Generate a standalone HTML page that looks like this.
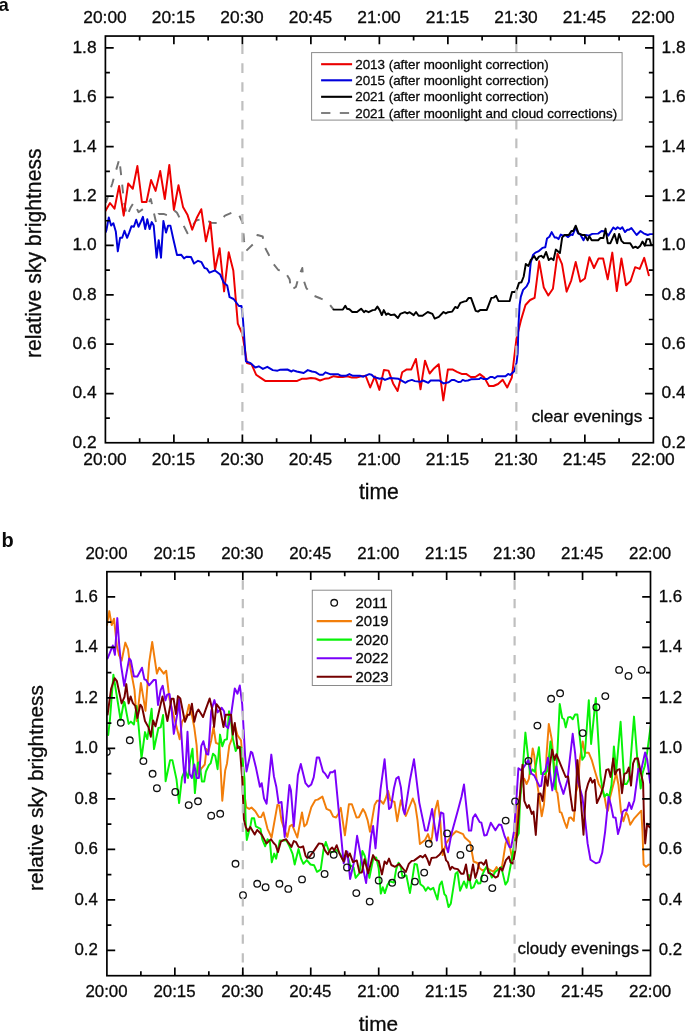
<!DOCTYPE html>
<html lang="en"><head><meta charset="utf-8"><title>Relative sky brightness</title>
<style>html,body{margin:0;padding:0;background:#fff}svg{display:block}text{font-family:"Liberation Sans", Arial, sans-serif;fill:#0a0a0a;stroke:#0a0a0a;stroke-width:0.3px}.tk{font-size:17.35px}.tkb{font-size:16.85px}.ax{font-size:21.2px}.pl{font-size:18.5px;font-weight:bold;stroke:none}.la{font-size:13.4px}.lb{font-size:14.9px}.fr{fill:none;stroke:#000;stroke-width:1.7}.t{stroke:#000;stroke-width:1.7;fill:none}.c{fill:none;stroke-width:1.95;stroke-linejoin:round;stroke-linecap:round}.vd{stroke:#bfbfbf;stroke-width:2.2;stroke-dasharray:9.6 9.22;fill:none}</style></head><body>
<svg width="685" height="1031" viewBox="0 0 685 1031">
<rect width="685" height="1031" fill="#fff"/>
<defs><clipPath id="cb"><rect x="106.9" y="571.7" width="543.6" height="404"/></clipPath><clipPath id="ca"><rect x="105.4" y="36.05" width="547.95" height="406.7"/></clipPath></defs>
<g id="panel-a">
<g clip-path="url(#ca)">
<polyline class="c" stroke="#737373" stroke-width="2" stroke-dasharray="8.8 9.6" stroke-dashoffset="2" style="stroke-linecap:butt" points="105.8,202.8 112.3,183.5 119.3,159.0 121.6,178.9 123.9,201.1 126.9,216.2 130.4,208.1 133.9,202.2 138.5,212.2 146.7,206.3 150.8,199.0 156.1,222.7 158.4,213.9 163.6,213.9 170.1,216.2 175.0,211.0 177.0,212.7 187.5,233.2 196.0,220.5 204.0,218.5 211.0,222.7 218.0,223.0 225.0,215.6 233.7,212.0 238.9,214.6 242.6,222.6 244.0,240.9 246.0,251.0 253.5,243.8 257.5,235.0 262.7,236.5 264.5,246.7 268.4,254.0 272.8,263.0 278.3,270.0 284.9,271.5 289.7,279.6 291.0,290.0 295.9,286.9 298.8,276.6 302.3,268.0 303.2,278.8 306.3,288.0 311.9,294.9 320.7,298.5 328.0,302.2 333.6,309.6"/>
<polyline class="c" stroke="#ee0000" points="105.4,211.0 110.0,203.0 114.5,208.7 119.1,185.9 123.7,215.7 128.2,183.5 132.8,188.8 137.4,166.0 141.9,202.0 146.5,202.0 151.1,180.0 155.6,190.9 160.2,170.9 164.8,199.0 169.3,164.9 173.9,209.8 178.5,185.3 183.0,206.9 187.6,215.1 192.2,229.7 196.7,218.0 201.3,209.2 205.9,241.3 210.4,222.1 215.0,269.8 219.6,248.2 224.1,291.4 228.7,252.3 233.3,270.4 237.8,323.7 242.4,334.0 247.0,363.1 251.5,364.2 256.1,374.7 260.7,377.9 265.2,380.9 269.8,380.9 274.4,380.9 278.9,380.9 283.5,380.9 288.1,380.9 292.6,380.9 297.2,380.9 301.8,378.8 306.3,378.8 310.9,378.0 315.4,378.5 320.0,380.5 324.6,378.8 329.1,378.2 333.7,376.2 338.3,377.0 342.8,377.0 347.4,376.2 352.0,377.6 356.5,377.6 361.1,376.4 365.7,375.8 370.2,387.5 374.8,376.4 379.4,389.9 383.9,370.0 388.5,370.6 393.1,383.4 397.6,391.0 402.2,372.3 406.8,369.4 411.3,369.4 415.9,358.9 420.5,389.3 425.0,360.7 429.6,373.5 434.2,368.2 438.7,364.2 443.3,400.4 447.9,369.4 452.4,369.4 457.0,371.8 461.6,373.9 466.1,373.9 470.7,377.0 475.3,377.0 479.8,374.1 484.4,377.6 489.0,386.0 493.5,386.0 498.1,384.0 502.7,379.7 507.2,387.5 511.8,377.6 516.4,339.0 520.9,320.4 525.5,305.0 530.1,300.0 534.6,297.8 539.2,261.3 543.8,287.6 548.3,295.5 552.9,288.8 557.5,253.7 562.0,264.2 566.6,291.7 571.2,280.6 575.7,261.9 580.3,281.8 584.9,278.5 589.4,257.2 594.0,268.0 598.6,258.4 603.1,258.4 607.7,279.4 612.3,252.6 616.8,291.1 621.4,258.4 626.0,285.3 630.5,281.2 635.1,267.2 639.7,268.9 644.2,257.8 648.8,275.3"/>
<polyline class="c" stroke="#0000dc" points="105.8,232.0 106.4,230.3 108.8,217.4 111.1,225.6 113.4,223.2 115.8,231.4 117.8,251.3 120.1,237.8 122.2,237.8 124.5,230.8 127.1,237.8 129.2,232.6 131.5,226.2 133.9,226.8 136.2,219.7 138.5,226.8 140.9,221.5 142.9,216.8 145.2,229.1 147.3,219.2 149.6,229.1 151.7,222.1 153.7,225.6 156.6,257.7 158.7,240.2 161.0,257.7 163.4,220.9 166.0,232.6 168.1,225.6 170.4,225.6 173.3,239.0 177.0,255.0 181.1,254.7 184.0,258.4 186.4,256.7 191.0,257.0 194.0,263.5 198.0,260.8 201.5,262.2 204.5,268.0 206.8,268.6 209.5,272.7 215.0,270.4 220.2,274.5 223.7,282.6 227.2,285.5 229.6,297.2 233.6,299.0 238.9,306.0 241.5,306.0 243.0,319.9 245.9,361.3 250.6,363.1 255.3,367.5 258.8,366.3 262.9,368.9 267.3,366.8 272.8,370.1 277.5,370.7 279.8,369.8 287.4,369.5 291.5,371.5 293.2,370.3 296.7,371.5 303.7,373.0 307.8,370.1 311.9,371.5 315.5,372.1 319.6,374.7 323.1,374.7 325.4,372.3 330.7,374.3 338.3,374.3 341.2,375.8 345.9,375.8 349.4,374.1 352.9,375.8 359.9,375.8 363.4,376.7 369.2,374.1 371.6,374.7 373.9,377.0 379.7,378.8 382.1,378.2 385.0,379.9 390.0,378.0 398.5,378.8 405.5,382.8 407.9,381.1 411.9,379.9 414.9,381.1 420.7,381.7 423.0,380.5 428.3,382.8 430.6,380.5 439.4,380.5 443.5,383.4 448.7,382.3 451.7,379.9 454.0,379.9 458.1,382.0 461.0,381.7 462.7,379.9 465.1,380.9 468.0,380.5 471.0,379.3 479.2,379.0 480.9,377.8 483.3,379.0 487.4,379.0 490.3,377.0 492.6,377.0 494.6,378.2 497.3,376.2 505.5,376.2 508.1,373.9 510.1,375.0 514.2,371.2 516.6,362.4 517.7,353.1 518.5,325.0 519.6,305.1 520.8,296.9 523.1,289.9 526.6,286.4 528.9,281.8 530.7,263.1 533.0,254.9 535.4,252.6 538.3,251.4 542.4,247.9 545.3,247.3 547.0,238.5 549.4,236.8 551.7,232.1 554.6,237.4 556.4,237.4 558.5,239.1 560.8,234.5 562.8,235.6 565.1,235.0 568.1,237.1 571.0,234.5 572.7,235.0 575.7,227.4 578.0,233.3 580.3,234.5 583.5,240.3 585.8,235.0 588.8,235.6 592.3,233.9 598.1,233.6 601.6,231.0 605.1,231.5 608.4,235.6 613.3,227.4 615.6,229.2 617.6,227.2 620.3,229.0 622.3,227.2 625.0,232.1 627.3,229.8 629.0,229.8 631.4,228.0 636.6,235.0 640.5,231.0 643.6,233.3 647.7,235.0 650.1,234.1 653.0,234.1"/>
<polyline class="c" stroke="#000" points="333.6,309.6 342.9,309.6 345.3,305.8 347.0,308.7 349.4,309.3 352.3,312.0 357.0,312.0 361.1,308.7 364.0,312.2 365.7,310.8 368.6,312.2 372.7,310.1 375.1,309.9 377.4,306.6 379.7,310.1 381.8,315.1 383.8,310.1 386.2,314.8 387.9,313.4 390.9,315.1 394.4,314.5 397.9,318.0 400.3,313.9 404.9,312.2 407.3,313.4 409.6,312.2 413.7,315.1 416.0,312.0 418.6,315.7 422.5,315.7 427.7,312.0 432.4,313.9 434.7,318.6 438.8,316.9 443.5,312.0 445.8,313.4 448.1,312.2 452.2,311.6 455.2,306.9 457.5,308.1 460.4,302.8 464.5,301.4 466.3,301.1 468.7,297.9 471.0,297.9 475.7,310.8 478.0,311.6 480.4,309.9 486.8,309.9 491.4,297.9 493.8,297.6 496.1,295.8 498.5,301.1 509.7,301.1 512.0,292.0 514.9,292.0 516.7,289.9 519.0,282.9 521.4,282.3 523.7,276.5 525.8,264.0 528.4,266.0 530.7,260.1 534.2,256.1 536.5,260.1 538.9,256.6 541.2,255.8 543.5,257.8 546.1,252.0 548.8,260.1 551.1,258.2 553.5,260.1 555.8,249.6 559.9,253.1 562.2,237.4 564.6,235.0 568.7,235.0 571.6,230.9 573.3,230.9 575.7,225.7 578.6,233.3 582.1,235.0 584.7,235.0 587.6,240.3 589.3,236.2 591.7,240.3 598.1,240.3 600.4,238.0 603.4,238.0 605.5,228.6 607.8,243.2 610.4,243.2 614.5,233.9 617.1,243.2 619.1,233.9 621.5,240.9 623.8,243.0 630.2,243.2 633.1,247.9 635.5,246.7 637.8,248.1 640.1,246.1 642.5,241.5 644.8,245.8 646.8,239.1 649.5,239.1 651.2,245.0 653.0,245.0"/>
</g>
<path class="vd" d="M242.4,25.7V442.7M516.35,25.7V442.7" clip-path="url(#ca)"/>
<rect x="311.6" y="52.6" width="310.5" height="67.5" fill="#fff" stroke="#8a8a8a" stroke-width="1"/>
<path d="M321.1,64.2H352.1" stroke="#ea0000" stroke-width="2.1" fill="none"/>
<text class="la" x="355.2" y="68.9">2013 (after moonlight correction)</text>
<path d="M321.1,80.3H352.1" stroke="#0000dc" stroke-width="2.1" fill="none"/>
<text class="la" x="355.2" y="85.0">2015 (after moonlight correction)</text>
<path d="M321.1,96.8H352.1" stroke="#000" stroke-width="2.1" fill="none"/>
<text class="la" x="355.2" y="101.2">2021 (after moonlight correction)</text>
<path d="M321.1,113.0H352.1" stroke="#808080" stroke-width="2.1" stroke-dasharray="9.3 9.4" fill="none"/>
<text class="la" x="355.2" y="117.5">2021 (after moonlight and cloud corrections)</text>
<path class="t" d="M139.65,36.05v4.5M139.65,442.75v-4.5M173.89,36.05v8.3M173.89,442.75v-8.3M208.14,36.05v4.5M208.14,442.75v-4.5M242.39,36.05v8.3M242.39,442.75v-8.3M276.63,36.05v4.5M276.63,442.75v-4.5M310.88,36.05v8.3M310.88,442.75v-8.3M345.13,36.05v4.5M345.13,442.75v-4.5M379.38,36.05v8.3M379.38,442.75v-8.3M413.62,36.05v4.5M413.62,442.75v-4.5M447.87,36.05v8.3M447.87,442.75v-8.3M482.12,36.05v4.5M482.12,442.75v-4.5M516.36,36.05v8.3M516.36,442.75v-8.3M550.61,36.05v4.5M550.61,442.75v-4.5M584.86,36.05v8.3M584.86,442.75v-8.3M619.10,36.05v4.5M619.10,442.75v-4.5M105.4,393.53h8.3M653.35,393.53h-8.3M105.4,344.16h8.3M653.35,344.16h-8.3M105.4,294.79h8.3M653.35,294.79h-8.3M105.4,245.42h8.3M653.35,245.42h-8.3M105.4,196.05h8.3M653.35,196.05h-8.3M105.4,146.68h8.3M653.35,146.68h-8.3M105.4,97.31h8.3M653.35,97.31h-8.3M105.4,47.94h8.3M653.35,47.94h-8.3M105.4,418.21h4.5M653.35,418.21h-4.5M105.4,368.84h4.5M653.35,368.84h-4.5M105.4,319.48h4.5M653.35,319.48h-4.5M105.4,270.11h4.5M653.35,270.11h-4.5M105.4,220.73h4.5M653.35,220.73h-4.5M105.4,171.36h4.5M653.35,171.36h-4.5M105.4,121.99h4.5M653.35,121.99h-4.5M105.4,72.62h4.5M653.35,72.62h-4.5"/>
<rect class="fr" x="105.4" y="36.05" width="548.0" height="406.7"/>
<text class="tk" text-anchor="middle" x="105.0" y="22.6">20:00</text>
<text class="tk" text-anchor="middle" x="105.0" y="465.3">20:00</text>
<text class="tk" text-anchor="middle" x="173.5" y="22.6">20:15</text>
<text class="tk" text-anchor="middle" x="173.5" y="465.3">20:15</text>
<text class="tk" text-anchor="middle" x="242.0" y="22.6">20:30</text>
<text class="tk" text-anchor="middle" x="242.0" y="465.3">20:30</text>
<text class="tk" text-anchor="middle" x="310.5" y="22.6">20:45</text>
<text class="tk" text-anchor="middle" x="310.5" y="465.3">20:45</text>
<text class="tk" text-anchor="middle" x="379.0" y="22.6">21:00</text>
<text class="tk" text-anchor="middle" x="379.0" y="465.3">21:00</text>
<text class="tk" text-anchor="middle" x="447.5" y="22.6">21:15</text>
<text class="tk" text-anchor="middle" x="447.5" y="465.3">21:15</text>
<text class="tk" text-anchor="middle" x="516.0" y="22.6">21:30</text>
<text class="tk" text-anchor="middle" x="516.0" y="465.3">21:30</text>
<text class="tk" text-anchor="middle" x="584.5" y="22.6">21:45</text>
<text class="tk" text-anchor="middle" x="584.5" y="465.3">21:45</text>
<text class="tk" text-anchor="middle" x="653.0" y="22.6">22:00</text>
<text class="tk" text-anchor="middle" x="653.0" y="465.3">22:00</text>
<text class="tk" text-anchor="end" x="96.6" y="447.8">0.2</text>
<text class="tk" x="661.5" y="447.8">0.2</text>
<text class="tk" text-anchor="end" x="96.6" y="398.4">0.4</text>
<text class="tk" x="661.5" y="398.4">0.4</text>
<text class="tk" text-anchor="end" x="96.6" y="349.1">0.6</text>
<text class="tk" x="661.5" y="349.1">0.6</text>
<text class="tk" text-anchor="end" x="96.6" y="299.7">0.8</text>
<text class="tk" x="661.5" y="299.7">0.8</text>
<text class="tk" text-anchor="end" x="96.6" y="250.3">1.0</text>
<text class="tk" x="661.5" y="250.3">1.0</text>
<text class="tk" text-anchor="end" x="96.6" y="200.9">1.2</text>
<text class="tk" x="661.5" y="200.9">1.2</text>
<text class="tk" text-anchor="end" x="96.6" y="151.6">1.4</text>
<text class="tk" x="661.5" y="151.6">1.4</text>
<text class="tk" text-anchor="end" x="96.6" y="102.2">1.6</text>
<text class="tk" x="661.5" y="102.2">1.6</text>
<text class="tk" text-anchor="end" x="96.6" y="52.8">1.8</text>
<text class="tk" x="661.5" y="52.8">1.8</text>
<text class="tk" style="font-size:17.2px" x="531.4" y="422">clear evenings</text>
<text class="ax" text-anchor="middle" x="378.9" y="498.5">time</text>
<text class="ax" text-anchor="middle" transform="translate(40.6,253.2) rotate(-90)">relative sky brightness</text>
<text class="pl" x="-1.4" y="11.3">a</text>
</g>
<g id="panel-b">
<g clip-path="url(#cb)">
<polyline class="c" stroke="#f27e0a" points="107.0,625.1 109.3,611.1 111.7,625.1 114.0,618.7 116.9,646.1 119.0,655.0 121.6,660.7 125.3,642.6 128.0,649.1 130.6,668.9 134.5,689.9 136.8,721.0 140.9,682.9 145.5,710.9 149.1,663.1 152.2,642.0 156.9,673.6 159.2,667.7 163.7,673.6 166.2,670.7 169.5,699.3 179.7,739.3 182.0,721.8 186.7,714.7 189.0,704.8 191.9,714.7 194.3,727.6 196.6,745.1 198.4,773.9 201.3,768.6 204.8,764.5 206.5,749.0 208.3,752.0 211.2,740.4 213.5,727.0 215.9,742.8 218.2,743.9 219.4,743.5 222.3,800.7 225.2,770.4 227.0,763.4 229.3,745.5 232.2,738.1 234.6,724.7 237.5,735.2 241.0,740.4 242.7,760.0 244.5,795.0 246.2,807.2 249.2,808.9 251.5,807.5 255.3,811.2 258.8,817.1 261.1,817.1 263.4,812.4 267.5,828.8 271.6,837.5 277.4,804.8 279.2,805.4 281.5,820.6 285.0,831.1 287.4,836.9 289.7,826.4 292.0,824.7 297.3,837.5 302.0,812.4 304.3,826.4 306.6,824.1 311.3,807.2 315.4,800.1 317.7,799.6 322.4,796.6 326.5,808.9 330.3,810.7 333.2,816.6 336.1,817.5 338.4,813.7 340.8,807.8 344.9,835.3 348.9,804.3 351.9,804.3 356.5,817.5 358.9,817.2 363.0,809.0 365.3,813.1 367.6,820.1 370.0,831.8 374.6,804.9 377.0,800.8 380.5,800.8 383.4,803.7 385.7,798.5 388.1,790.9 390.4,800.2 394.5,802.0 397.2,821.2 400.9,800.2 405.8,816.0 412.8,798.5 415.2,804.9 417.5,820.1 419.9,844.0 425.1,839.9 428.0,834.1 430.6,842.3 432.1,836.4 435.0,810.7 437.7,800.8 440.3,821.2 442.6,855.1 446.1,843.4 448.5,839.9 452.0,835.3 456.1,831.2 463.1,834.1 464.8,837.6 470.1,842.3 473.6,861.5 477.3,863.0 479.7,868.2 482.6,870.6 487.0,868.0 491.4,870.6 493.7,871.8 496.6,867.1 498.4,870.6 501.9,867.1 505.6,843.7 508.1,837.3 512.4,860.1 515.3,836.7 517.7,808.0 520.5,792.0 522.0,782.0 524.3,778.8 526.6,784.0 528.9,778.8 532.7,748.4 534.2,755.4 536.5,778.8 538.9,795.1 541.7,816.2 544.0,804.5 545.8,780.0 546.5,755.4 548.8,723.9 551.7,739.1 554.1,764.7 556.4,791.6 557.4,792.8 559.8,812.1 561.5,812.7 564.5,822.0 566.8,827.9 569.1,818.0 570.9,817.4 573.8,820.9 576.1,791.7 578.0,785.8 579.7,760.1 582.7,741.4 584.7,752.8 588.8,752.8 591.7,759.8 594.6,770.0 598.7,783.9 601.6,788.5 604.5,796.7 606.5,808.0 608.0,810.7 610.0,797.5 616.2,773.4 618.5,785.0 620.9,810.7 623.4,821.2 626.1,812.5 627.9,815.4 630.2,824.7 634.3,818.3 641.3,810.7 642.5,831.8 643.6,864.5 646.0,866.8 648.9,864.5"/>
<polyline class="c" stroke="#08f208" points="108.2,735.0 109.9,720.0 113.4,674.7 116.4,693.4 120.6,720.0 123.9,701.6 124.5,702.3 128.6,723.9 130.9,721.6 133.9,724.5 136.5,706.0 138.5,725.1 141.5,758.4 145.0,732.1 147.3,739.1 151.6,708.8 154.0,749.1 158.4,728.0 160.7,727.4 163.1,715.0 165.6,781.2 170.1,760.1 172.4,760.1 176.5,779.4 179.1,803.1 182.0,777.4 185.0,770.0 188.0,778.0 190.2,760.0 192.5,748.7 194.9,793.1 197.8,762.8 199.5,762.2 201.9,781.5 204.2,781.5 205.9,771.5 208.9,765.1 210.6,763.4 213.0,753.7 215.3,756.0 217.6,769.2 220.0,734.6 222.3,746.3 224.6,739.9 227.0,739.3 229.0,711.2 231.1,721.8 232.8,738.1 235.7,751.0 238.1,746.0 241.3,747.8 244.5,778.5 245.7,821.8 246.8,840.0 250.6,825.0 251.8,818.2 254.1,818.2 255.8,826.4 260.5,828.8 262.3,839.3 265.2,846.3 267.5,839.3 269.9,841.6 271.8,862.3 274.2,853.6 276.1,858.7 279.8,840.4 286.4,840.4 289.7,846.9 292.6,853.9 294.7,864.5 298.5,849.0 301.0,858.7 303.4,863.8 306.8,860.1 310.5,864.5 314.1,865.3 317.0,871.8 320.7,869.6 323.6,849.2 325.8,842.0 329.1,851.6 333.0,852.0 336.5,850.0 340.2,853.9 342.5,859.2 347.0,853.0 350.0,865.0 353.6,867.4 355.6,877.9 359.5,873.2 362.4,851.0 364.7,855.7 367.0,865.0 369.4,877.9 373.5,857.4 376.2,857.4 378.7,868.5 380.8,893.6 382.8,887.2 384.8,893.1 387.5,884.9 389.8,881.4 393.9,882.6 396.2,869.1 398.6,862.7 400.9,867.4 402.3,876.1 406.4,875.5 409.9,893.1 412.3,879.1 414.6,863.9 416.9,864.5 420.4,884.3 423.4,886.6 425.7,890.7 428.0,887.2 430.4,889.6 433.3,887.8 437.4,899.5 439.7,884.9 441.8,881.4 444.4,894.2 446.1,896.0 448.5,907.1 450.8,903.6 455.5,873.8 457.5,872.0 460.1,890.7 464.0,881.4 466.6,887.8 468.9,875.0 471.2,888.4 473.6,887.2 476.5,880.0 478.2,883.5 480.3,883.4 482.6,874.1 486.1,867.1 489.0,870.6 491.9,877.6 495.4,871.8 498.4,869.4 501.3,867.1 505.4,884.6 507.7,881.1 511.2,862.4 514.7,841.4 518.8,833.2 520.0,801.7 522.5,771.8 525.4,732.6 528.4,760.1 530.1,774.1 532.4,769.4 534.8,771.8 538.9,747.2 541.2,774.1 544.7,774.1 547.6,770.6 550.5,741.4 552.9,755.4 555.2,789.3 557.6,748.4 559.7,704.0 562.2,718.0 564.0,719.2 565.7,727.4 568.1,717.4 570.4,716.9 572.7,719.2 575.1,714.5 577.4,714.5 579.7,736.7 582.3,759.8 584.7,756.3 588.8,700.2 591.1,744.0 595.8,697.9 600.4,775.0 602.2,787.4 604.5,796.7 606.9,793.8 609.2,796.7 611.5,785.0 613.9,746.4 616.2,771.0 620.6,721.8 624.4,783.9 626.7,783.9 629.1,779.2 634.0,716.6 637.2,757.4 640.7,788.5 642.5,773.4 644.8,766.0 647.2,752.0 650.7,725.9"/>
<polyline class="c" stroke="#7a00fa" points="107.6,658.4 112.8,645.5 114.9,654.9 117.3,618.1 119.3,646.1 121.0,664.8 124.2,685.8 129.2,658.4 130.9,660.7 133.9,676.5 137.4,676.5 142.0,667.7 144.4,679.4 146.1,680.0 149.1,685.3 153.7,680.0 155.8,680.0 158.0,705.0 160.7,689.9 162.7,685.8 165.4,700.4 167.2,694.6 169.5,694.0 171.8,711.0 173.8,733.9 177.7,711.7 179.1,699.0 183.2,762.0 184.9,782.6 187.5,731.7 189.6,773.9 191.9,778.0 194.3,764.5 196.6,778.0 198.9,778.0 201.3,745.8 203.4,741.2 206.5,754.0 208.3,754.6 211.2,711.2 214.4,700.1 217.6,712.4 221.7,707.7 224.1,711.2 225.8,725.8 228.1,728.2 231.1,714.7 234.8,688.5 237.5,693.7 239.8,685.5 242.2,704.2 245.1,755.6 246.5,771.5 250.9,751.7 252.3,752.8 255.8,766.9 259.9,786.7 261.7,783.2 264.0,798.4 266.6,803.7 271.3,754.6 273.9,776.2 276.3,786.7 278.6,803.1 281.5,801.9 284.7,836.9 289.4,785.0 290.9,790.2 293.8,826.4 297.9,775.0 300.8,763.9 305.5,783.2 308.4,786.7 311.3,784.4 313.7,777.4 316.8,757.5 319.1,757.5 323.0,771.5 325.3,773.9 327.9,778.0 330.3,772.2 332.6,772.2 334.9,770.4 343.7,863.3 347.4,851.6 350.1,879.0 353.6,863.9 357.1,835.8 362.4,865.0 366.1,883.1 371.1,836.4 373.1,825.9 375.5,848.4 380.5,789.7 384.6,759.3 386.9,786.2 389.0,809.0 391.0,807.2 393.9,788.5 396.2,778.6 398.6,776.9 400.9,787.4 403.2,809.6 404.7,814.2 409.9,780.4 414.0,759.3 419.3,802.6 425.1,830.6 427.4,830.6 432.1,809.0 436.8,840.5 440.9,812.5 443.4,813.7 445.5,843.4 448.1,852.2 451.4,834.1 458.4,808.4 461.5,796.7 464.0,784.5 468.9,830.6 471.2,830.6 473.0,817.7 475.3,814.2 479.7,822.1 481.4,822.7 484.3,835.5 486.7,835.0 490.8,822.7 495.4,830.3 498.9,824.5 501.3,825.0 504.8,836.7 509.5,847.2 511.2,847.2 514.1,830.9 515.3,813.4 516.1,803.9 518.4,768.2 521.4,770.6 525.4,764.7 528.4,760.1 531.3,773.5 534.2,775.3 539.5,786.4 541.2,785.8 543.0,772.9 545.3,770.6 548.0,757.7 552.3,790.4 556.4,766.5 559.3,781.1 563.4,793.9 567.5,779.9 572.7,733.8 575.1,753.1 577.4,779.9 580.0,788.5 582.3,796.7 584.7,815.4 587.6,843.4 590.5,859.8 595.8,863.3 599.3,862.1 602.2,852.8 605.1,831.8 608.6,796.7 610.9,804.9 613.3,817.2 615.6,817.7 618.0,834.1 620.3,825.9 622.6,811.9 625.0,809.6 626.7,810.7 629.1,802.6 631.4,809.0 634.3,800.2 636.6,782.7 638.4,768.7 640.7,772.2 645.1,752.5 647.2,759.3 650.1,782.7"/>
<polyline class="c" stroke="#740000" points="107.6,714.5 111.1,688.8 114.6,678.2 116.9,681.2 121.6,703.4 124.5,696.9 126.3,684.1 128.6,703.4 130.6,696.4 132.7,702.8 135.3,706.0 137.4,718.1 140.3,704.7 142.0,707.0 145.0,721.0 148.5,727.4 150.8,736.8 153.1,720.4 155.5,726.3 158.4,714.0 162.5,696.4 167.4,721.0 171.5,698.7 173.6,698.7 175.9,714.0 177.9,696.1 180.3,698.4 184.9,721.8 187.8,714.7 189.6,714.7 191.9,703.7 194.3,721.8 196.6,712.4 198.4,709.5 203.0,717.1 205.9,708.9 209.7,698.4 212.1,708.9 214.1,727.0 216.5,704.2 220.0,708.9 223.5,727.0 225.8,714.7 231.1,714.7 232.8,734.6 234.8,722.9 237.5,748.0 239.8,747.0 242.2,778.5 243.9,819.4 245.7,827.0 248.0,831.1 250.3,827.0 254.7,834.6 257.2,829.9 261.7,834.6 266.4,843.4 271.0,839.3 273.4,842.8 275.7,845.1 278.0,852.1 280.9,841.6 283.9,839.9 286.2,839.3 288.0,842.2 291.5,846.9 293.8,841.0 296.1,842.2 298.5,846.9 300.8,847.4 303.1,846.3 305.5,855.6 307.2,858.0 309.6,856.8 314.2,850.4 318.9,843.4 322.4,843.9 325.0,850.4 327.9,854.5 330.3,849.3 332.2,847.5 334.3,850.4 336.7,845.2 339.6,853.9 343.7,861.5 346.0,851.0 348.1,856.9 349.8,853.4 353.0,862.1 356.8,860.4 359.5,872.6 361.8,872.6 364.5,859.2 368.2,873.2 373.1,855.1 375.5,859.8 378.7,860.9 382.0,874.4 384.6,861.5 386.7,863.9 389.0,858.6 391.3,865.0 395.1,866.8 399.2,863.9 402.9,868.5 405.8,872.0 408.8,863.9 411.7,860.9 414.0,860.6 420.4,855.9 422.8,857.4 425.1,854.8 427.4,859.2 429.4,865.0 431.5,858.0 436.2,857.4 439.7,854.5 443.4,849.3 446.1,860.4 447.9,862.1 450.2,869.7 452.0,866.8 454.3,868.5 457.8,869.1 461.3,873.8 463.6,873.8 466.0,864.5 468.3,879.6 470.1,880.2 473.0,864.5 475.3,877.9 477.3,871.8 479.1,863.0 481.4,862.4 483.8,864.7 486.1,860.1 488.4,872.9 491.4,874.1 495.4,877.6 497.8,876.4 500.1,867.7 502.4,870.6 505.9,860.1 508.9,856.6 510.6,862.4 513.0,863.6 515.3,850.7 517.0,834.4 518.8,813.4 520.8,783.4 522.5,764.7 524.3,800.9 527.2,807.9 528.9,805.0 531.8,813.9 533.5,811.5 535.8,834.9 538.4,794.0 540.5,793.4 542.6,801.0 545.3,776.4 547.6,785.8 550.0,764.7 552.1,749.6 554.6,760.1 556.4,754.2 561.1,765.9 565.7,777.0 568.1,776.4 570.4,795.1 572.6,810.4 575.0,810.4 577.4,760.1 579.7,785.8 583.5,834.7 585.8,792.0 588.2,783.3 590.5,778.0 592.3,782.7 594.6,779.8 596.9,803.1 600.4,795.5 603.4,786.2 606.3,769.9 608.6,769.3 610.6,776.9 613.3,758.4 615.0,774.5 617.4,769.9 619.7,769.3 622.0,793.2 624.4,773.9 626.7,772.8 628.8,767.5 631.0,785.6 633.1,763.4 634.9,758.8 637.8,758.2 640.7,772.2 643.1,782.7 644.0,820.1 645.2,843.4 647.2,823.6 649.5,827.1"/>
<circle cx="106.8" cy="752" r="3.3" fill="none" stroke="#111" stroke-width="1.3"/>
<circle cx="120.8" cy="722.8" r="3.3" fill="none" stroke="#111" stroke-width="1.3"/>
<circle cx="129.8" cy="740.3" r="3.3" fill="none" stroke="#111" stroke-width="1.3"/>
<circle cx="143.4" cy="761.1" r="3.3" fill="none" stroke="#111" stroke-width="1.3"/>
<circle cx="152.6" cy="773.8" r="3.3" fill="none" stroke="#111" stroke-width="1.3"/>
<circle cx="156.9" cy="788.2" r="3.3" fill="none" stroke="#111" stroke-width="1.3"/>
<circle cx="175.3" cy="792" r="3.3" fill="none" stroke="#111" stroke-width="1.3"/>
<circle cx="188.7" cy="805.1" r="3.3" fill="none" stroke="#111" stroke-width="1.3"/>
<circle cx="198" cy="801.3" r="3.3" fill="none" stroke="#111" stroke-width="1.3"/>
<circle cx="211.2" cy="815.7" r="3.3" fill="none" stroke="#111" stroke-width="1.3"/>
<circle cx="220.2" cy="813.8" r="3.3" fill="none" stroke="#111" stroke-width="1.3"/>
<circle cx="235.5" cy="863.8" r="3.3" fill="none" stroke="#111" stroke-width="1.3"/>
<circle cx="243" cy="895.2" r="3.3" fill="none" stroke="#111" stroke-width="1.3"/>
<circle cx="257.2" cy="883.8" r="3.3" fill="none" stroke="#111" stroke-width="1.3"/>
<circle cx="265.6" cy="887.2" r="3.3" fill="none" stroke="#111" stroke-width="1.3"/>
<circle cx="279.4" cy="883.8" r="3.3" fill="none" stroke="#111" stroke-width="1.3"/>
<circle cx="288.3" cy="888.9" r="3.3" fill="none" stroke="#111" stroke-width="1.3"/>
<circle cx="302" cy="879.4" r="3.3" fill="none" stroke="#111" stroke-width="1.3"/>
<circle cx="311" cy="855" r="3.3" fill="none" stroke="#111" stroke-width="1.3"/>
<circle cx="324.6" cy="874" r="3.3" fill="none" stroke="#111" stroke-width="1.3"/>
<circle cx="333.7" cy="854.8" r="3.3" fill="none" stroke="#111" stroke-width="1.3"/>
<circle cx="347" cy="867.5" r="3.3" fill="none" stroke="#111" stroke-width="1.3"/>
<circle cx="356.3" cy="893.1" r="3.3" fill="none" stroke="#111" stroke-width="1.3"/>
<circle cx="369.7" cy="901.6" r="3.3" fill="none" stroke="#111" stroke-width="1.3"/>
<circle cx="378.7" cy="880.5" r="3.3" fill="none" stroke="#111" stroke-width="1.3"/>
<circle cx="392.2" cy="882.8" r="3.3" fill="none" stroke="#111" stroke-width="1.3"/>
<circle cx="401.5" cy="874.7" r="3.3" fill="none" stroke="#111" stroke-width="1.3"/>
<circle cx="414.9" cy="881.6" r="3.3" fill="none" stroke="#111" stroke-width="1.3"/>
<circle cx="424.2" cy="872.6" r="3.3" fill="none" stroke="#111" stroke-width="1.3"/>
<circle cx="428.8" cy="843.8" r="3.3" fill="none" stroke="#111" stroke-width="1.3"/>
<circle cx="447.1" cy="833.4" r="3.3" fill="none" stroke="#111" stroke-width="1.3"/>
<circle cx="460.4" cy="854.9" r="3.3" fill="none" stroke="#111" stroke-width="1.3"/>
<circle cx="469.8" cy="848.1" r="3.3" fill="none" stroke="#111" stroke-width="1.3"/>
<circle cx="484.3" cy="878.5" r="3.3" fill="none" stroke="#111" stroke-width="1.3"/>
<circle cx="492.3" cy="888.1" r="3.3" fill="none" stroke="#111" stroke-width="1.3"/>
<circle cx="505.7" cy="820.6" r="3.3" fill="none" stroke="#111" stroke-width="1.3"/>
<circle cx="515.1" cy="801.4" r="3.3" fill="none" stroke="#111" stroke-width="1.3"/>
<circle cx="528.4" cy="760.9" r="3.3" fill="none" stroke="#111" stroke-width="1.3"/>
<circle cx="537.4" cy="725.6" r="3.3" fill="none" stroke="#111" stroke-width="1.3"/>
<circle cx="551.1" cy="698.8" r="3.3" fill="none" stroke="#111" stroke-width="1.3"/>
<circle cx="560.1" cy="693.3" r="3.3" fill="none" stroke="#111" stroke-width="1.3"/>
<circle cx="582.7" cy="733.1" r="3.3" fill="none" stroke="#111" stroke-width="1.3"/>
<circle cx="596.4" cy="707.2" r="3.3" fill="none" stroke="#111" stroke-width="1.3"/>
<circle cx="605.3" cy="696.1" r="3.3" fill="none" stroke="#111" stroke-width="1.3"/>
<circle cx="619.1" cy="669.9" r="3.3" fill="none" stroke="#111" stroke-width="1.3"/>
<circle cx="628.5" cy="675.9" r="3.3" fill="none" stroke="#111" stroke-width="1.3"/>
<circle cx="641.7" cy="669.9" r="3.3" fill="none" stroke="#111" stroke-width="1.3"/>
</g>
<path class="vd" style="stroke-dasharray:9.35 9.29" d="M242.8,561.7V975.7M514.6,561.7V975.7" clip-path="url(#cb)"/>
<rect x="312.3" y="590.2" width="79.3" height="95.3" fill="#fff" stroke="#8a8a8a" stroke-width="1"/>
<circle cx="334.2" cy="602.8" r="3.3" fill="none" stroke="#111" stroke-width="1.3"/>
<text class="lb" x="355.4" y="608">2011</text>
<path d="M316.7,621.1H351.9" stroke="#f27e0a" stroke-width="2.1" fill="none"/>
<text class="lb" x="355.4" y="626.3">2019</text>
<path d="M316.7,639.6H351.9" stroke="#08f208" stroke-width="2.1" fill="none"/>
<text class="lb" x="355.4" y="644.8">2020</text>
<path d="M316.7,658.2H351.9" stroke="#7a00fa" stroke-width="2.1" fill="none"/>
<text class="lb" x="355.4" y="663.4">2022</text>
<path d="M316.7,676.8H351.9" stroke="#740000" stroke-width="2.1" fill="none"/>
<text class="lb" x="355.4" y="682.0">2023</text>
<path class="t" d="M140.88,571.7v4.5M140.88,975.7v-4.5M174.85,571.7v8.3M174.85,975.7v-8.3M208.83,571.7v4.5M208.83,975.7v-4.5M242.80,571.7v8.3M242.80,975.7v-8.3M276.77,571.7v4.5M276.77,975.7v-4.5M310.75,571.7v8.3M310.75,975.7v-8.3M344.73,571.7v4.5M344.73,975.7v-4.5M378.70,571.7v8.3M378.70,975.7v-8.3M412.68,571.7v4.5M412.68,975.7v-4.5M446.65,571.7v8.3M446.65,975.7v-8.3M480.62,571.7v4.5M480.62,975.7v-4.5M514.60,571.7v8.3M514.60,975.7v-8.3M548.58,571.7v4.5M548.58,975.7v-4.5M582.55,571.7v8.3M582.55,975.7v-8.3M616.52,571.7v4.5M616.52,975.7v-4.5M106.9,950.30h8.3M650.5,950.30h-8.3M106.9,899.81h8.3M650.5,899.81h-8.3M106.9,849.33h8.3M650.5,849.33h-8.3M106.9,798.84h8.3M650.5,798.84h-8.3M106.9,748.36h8.3M650.5,748.36h-8.3M106.9,697.87h8.3M650.5,697.87h-8.3M106.9,647.38h8.3M650.5,647.38h-8.3M106.9,596.90h8.3M650.5,596.90h-8.3M106.9,925.06h4.5M650.5,925.06h-4.5M106.9,874.57h4.5M650.5,874.57h-4.5M106.9,824.08h4.5M650.5,824.08h-4.5M106.9,773.60h4.5M650.5,773.60h-4.5M106.9,723.11h4.5M650.5,723.11h-4.5M106.9,672.63h4.5M650.5,672.63h-4.5M106.9,622.14h4.5M650.5,622.14h-4.5"/>
<rect class="fr" x="106.9" y="571.7" width="543.6" height="404.0"/>
<text class="tkb" text-anchor="middle" x="106.5" y="559">20:00</text>
<text class="tkb" text-anchor="middle" x="106.5" y="997.3">20:00</text>
<text class="tkb" text-anchor="middle" x="174.5" y="559">20:15</text>
<text class="tkb" text-anchor="middle" x="174.5" y="997.3">20:15</text>
<text class="tkb" text-anchor="middle" x="242.4" y="559">20:30</text>
<text class="tkb" text-anchor="middle" x="242.4" y="997.3">20:30</text>
<text class="tkb" text-anchor="middle" x="310.4" y="559">20:45</text>
<text class="tkb" text-anchor="middle" x="310.4" y="997.3">20:45</text>
<text class="tkb" text-anchor="middle" x="378.3" y="559">21:00</text>
<text class="tkb" text-anchor="middle" x="378.3" y="997.3">21:00</text>
<text class="tkb" text-anchor="middle" x="446.2" y="559">21:15</text>
<text class="tkb" text-anchor="middle" x="446.2" y="997.3">21:15</text>
<text class="tkb" text-anchor="middle" x="514.2" y="559">21:30</text>
<text class="tkb" text-anchor="middle" x="514.2" y="997.3">21:30</text>
<text class="tkb" text-anchor="middle" x="582.2" y="559">21:45</text>
<text class="tkb" text-anchor="middle" x="582.2" y="997.3">21:45</text>
<text class="tkb" text-anchor="middle" x="650.1" y="559">22:00</text>
<text class="tkb" text-anchor="middle" x="650.1" y="997.3">22:00</text>
<text class="tkb" text-anchor="end" x="97.8" y="955.1">0.2</text>
<text class="tkb" x="658.7" y="955.1">0.2</text>
<text class="tkb" text-anchor="end" x="97.8" y="904.6">0.4</text>
<text class="tkb" x="658.7" y="904.6">0.4</text>
<text class="tkb" text-anchor="end" x="97.8" y="854.1">0.6</text>
<text class="tkb" x="658.7" y="854.1">0.6</text>
<text class="tkb" text-anchor="end" x="97.8" y="803.6">0.8</text>
<text class="tkb" x="658.7" y="803.6">0.8</text>
<text class="tkb" text-anchor="end" x="97.8" y="753.2">1.0</text>
<text class="tkb" x="658.7" y="753.2">1.0</text>
<text class="tkb" text-anchor="end" x="97.8" y="702.7">1.2</text>
<text class="tkb" x="658.7" y="702.7">1.2</text>
<text class="tkb" text-anchor="end" x="97.8" y="652.2">1.4</text>
<text class="tkb" x="658.7" y="652.2">1.4</text>
<text class="tkb" text-anchor="end" x="97.8" y="601.7">1.6</text>
<text class="tkb" x="658.7" y="601.7">1.6</text>
<text class="tkb" style="font-size:16.95px" text-anchor="end" x="638.9" y="954.4">cloudy evenings</text>
<text class="ax" text-anchor="middle" x="378.5" y="1030.9" style="font-size:20.8px">time</text>
<text class="ax" style="font-size:20.8px" text-anchor="middle" transform="translate(42.8,788) rotate(-90)">relative sky brightness</text>
<text class="pl" style="font-size:20px" x="1.6" y="546.6">b</text>
</g>
</svg></body></html>
